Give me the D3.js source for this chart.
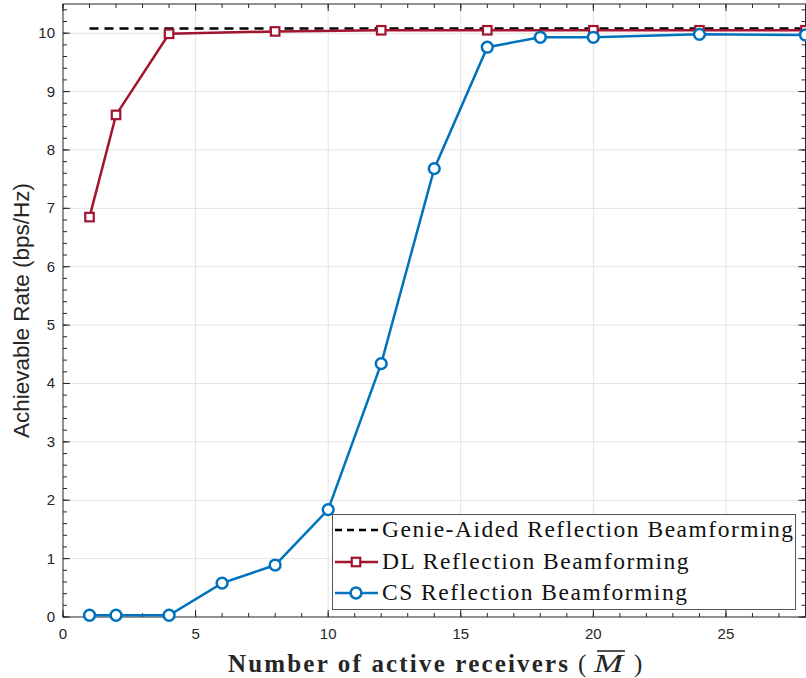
<!DOCTYPE html>
<html>
<head>
<meta charset="utf-8">
<script src="https://cdn.jsdelivr.net/npm/d3@7/dist/d3.min.js"></script>
<style>
  html, body { margin: 0; padding: 0; background: #fff; }
  svg { display: block; }
</style>
</head>
<body>
<svg id="chart" width="806" height="678"></svg>
<script>
// Achievable rate versus number of active receivers
const genieX = [1, 28];
const genieY = [10.08, 10.08];

const dlX = [1, 2, 4, 8, 12, 16, 20, 24, 28];
const dlY = [6.85, 8.6, 9.99, 10.03, 10.05, 10.05, 10.05, 10.05, 10.05];

const csX = [1, 2, 4, 6, 8, 10, 12, 14, 16, 18, 20, 24, 28];
const csY = [0.03, 0.03, 0.03, 0.58, 0.89, 1.84, 4.34, 7.68, 9.76, 9.93, 9.93, 9.98, 9.97];

const xTicks = [0, 5, 10, 15, 20, 25];
const yTicks = [0, 1, 2, 3, 4, 5, 6, 7, 8, 9, 10];

const legendLabels = [
  "Genie-Aided Reflection Beamforming",
  "DL Reflection Beamforming",
  "CS Reflection Beamforming"
];

const RED = "#A2142F", BLUE = "#0072BD", AXIS = "#262626";
const SANS = "Liberation Sans, Arial, sans-serif";
const SERIF = "Liberation Serif, Times New Roman, serif";

const svg = d3.select("#chart");
const m = { left: 63, right: 0, top: 4, bottom: 61 };
const W = 806, H = 678;

const x = d3.scaleLinear().domain([0, 28]).range([m.left, W - m.right - 0.5]);
const y = d3.scaleLinear().domain([0, 10.5]).range([H - m.bottom, m.top]);

const x0 = x.range()[0], x1 = x.range()[1], y0 = y.range()[0], y1 = y.range()[1];

// grid
const grid = svg.append("g");
grid.selectAll("line.gx").data(xTicks.filter(t => t > 0)).join("line")
  .attr("x1", d => x(d)).attr("x2", d => x(d)).attr("y1", y0).attr("y2", y1)
  .attr("stroke", "#e3e3e3").attr("stroke-width", 1);
grid.selectAll("line.gy").data(yTicks.filter(t => t > 0)).join("line")
  .attr("x1", x0).attr("x2", x1).attr("y1", d => y(d)).attr("y2", d => y(d))
  .attr("stroke", "#e3e3e3").attr("stroke-width", 1);

// axes with minor ticks on all four sides
const xMinor = d3.range(0, 28.001, 1);
const yMinor = d3.range(0, 10.5001, 0.2);

function tickSet(g, vals, len, orient) {
  g.selectAll("line").data(vals).join("line")
    .attr("stroke", AXIS).attr("stroke-width", 1)
    .each(function (d) {
      const s = d3.select(this);
      if (orient === "bottom") s.attr("x1", x(d)).attr("x2", x(d)).attr("y1", y0).attr("y2", y0 - len);
      if (orient === "top") s.attr("x1", x(d)).attr("x2", x(d)).attr("y1", y1).attr("y2", y1 + len);
      if (orient === "left") s.attr("y1", y(d)).attr("y2", y(d)).attr("x1", x0).attr("x2", x0 + len);
      if (orient === "right") s.attr("y1", y(d)).attr("y2", y(d)).attr("x1", x1).attr("x2", x1 - len);
    });
}
tickSet(svg.append("g"), xMinor, 4, "bottom");
tickSet(svg.append("g"), xMinor, 4, "top");
tickSet(svg.append("g"), xTicks, 7, "bottom");
tickSet(svg.append("g"), xTicks, 7, "top");
tickSet(svg.append("g"), yMinor, 4, "left");
tickSet(svg.append("g"), yMinor, 4, "right");
tickSet(svg.append("g"), yTicks, 7, "left");
tickSet(svg.append("g"), yTicks, 7, "right");

svg.append("rect").attr("x", x0).attr("y", y1).attr("width", x1 - x0).attr("height", y0 - y1)
  .attr("fill", "none").attr("stroke", AXIS).attr("stroke-width", 1);

// tick labels
svg.append("g").selectAll("text").data(xTicks).join("text")
  .attr("x", d => x(d)).attr("y", y0 + 22)
  .attr("text-anchor", "middle")
  .attr("font-family", SANS).attr("font-size", 15)
  .attr("fill", AXIS).text(d => d);
svg.append("g").selectAll("text").data(yTicks).join("text")
  .attr("x", x0 - 8).attr("y", d => y(d) + 5)
  .attr("text-anchor", "end")
  .attr("font-family", SANS).attr("font-size", 15)
  .attr("fill", AXIS).text(d => d);

// axis titles
svg.append("text")
  .attr("transform", `translate(29,${(y0 + y1) / 2}) rotate(-90)`)
  .attr("text-anchor", "middle")
  .attr("font-family", SANS).attr("font-size", 22.5)
  .attr("fill", AXIS).text("Achievable Rate (bps/Hz)");

const xlY = 672;
svg.append("text")
  .attr("x", 228).attr("y", xlY)
  .attr("font-family", SERIF).attr("font-size", 25).attr("font-weight", "bold")
  .attr("textLength", 340).attr("lengthAdjust", "spacing")
  .attr("fill", AXIS).text("Number of active receivers");
svg.append("text").attr("x", 578).attr("y", xlY)
  .attr("font-family", SERIF).attr("font-size", 25).attr("fill", AXIS).text("(");
svg.append("text").attr("x", 594).attr("y", xlY)
  .attr("font-family", SERIF).attr("font-size", 25).attr("font-style", "italic")
  .attr("textLength", 29).attr("lengthAdjust", "spacingAndGlyphs")
  .attr("fill", AXIS).text("M");
svg.append("text").attr("x", 634).attr("y", xlY)
  .attr("font-family", SERIF).attr("font-size", 25).attr("fill", AXIS).text(")");
// overline over M
svg.append("line").attr("x1", 597).attr("x2", 625).attr("y1", 651).attr("y2", 651)
  .attr("stroke", AXIS).attr("stroke-width", 1.6);

// series
const line = d3.line().x(d => x(d[0])).y(d => y(d[1]));
const plot = svg.append("g");

plot.append("path").datum(d3.zip(genieX, genieY))
  .attr("d", line).attr("fill", "none").attr("stroke", "#000")
  .attr("stroke-width", 2.5).attr("stroke-dasharray", "9,6");

plot.append("path").datum(d3.zip(dlX, dlY))
  .attr("d", line).attr("fill", "none").attr("stroke", RED).attr("stroke-width", 2.5);
plot.append("g").selectAll("rect").data(d3.zip(dlX, dlY)).join("rect")
  .attr("x", d => x(d[0]) - 4.25).attr("y", d => y(d[1]) - 4.25)
  .attr("width", 8.5).attr("height", 8.5)
  .attr("fill", "#fff").attr("stroke", RED).attr("stroke-width", 2.2);

plot.append("path").datum(d3.zip(csX, csY))
  .attr("d", line).attr("fill", "none").attr("stroke", BLUE).attr("stroke-width", 2.5);
plot.append("g").selectAll("circle").data(d3.zip(csX, csY)).join("circle")
  .attr("cx", d => x(d[0])).attr("cy", d => y(d[1])).attr("r", 5.4)
  .attr("fill", "#fff").attr("stroke", BLUE).attr("stroke-width", 2.5);

// legend
const lg = svg.append("g");
lg.append("rect").attr("x", 332.5).attr("y", 514.5).attr("width", 463).attr("height", 95)
  .attr("fill", "#fff").attr("stroke", "#555").attr("stroke-width", 1);
const rowY = [530, 562, 593];
const styles = [
  { stroke: "#000", dash: "7,5", marker: null },
  { stroke: RED, dash: null, marker: "square" },
  { stroke: BLUE, dash: null, marker: "circle" }
];
legendLabels.forEach((lab, i) => {
  const s = styles[i];
  const ly = rowY[i];
  lg.append("line").attr("x1", 335).attr("x2", 378).attr("y1", ly).attr("y2", ly)
    .attr("stroke", s.stroke).attr("stroke-width", 2.5)
    .attr("stroke-dasharray", s.dash);
  if (s.marker === "square") {
    lg.append("rect").attr("x", 356 - 4.25).attr("y", ly - 4.25).attr("width", 8.5).attr("height", 8.5)
      .attr("fill", "#fff").attr("stroke", s.stroke).attr("stroke-width", 2.2);
  } else if (s.marker === "circle") {
    lg.append("circle").attr("cx", 356).attr("cy", ly).attr("r", 5.4)
      .attr("fill", "#fff").attr("stroke", s.stroke).attr("stroke-width", 2.5);
  }
  lg.append("text").attr("x", 382).attr("y", ly + 7)
    .attr("font-family", SERIF).attr("font-size", 23.5)
    .attr("letter-spacing", 1.5)
    .attr("fill", "#111").text(lab);
});
</script>
</body>
</html>
